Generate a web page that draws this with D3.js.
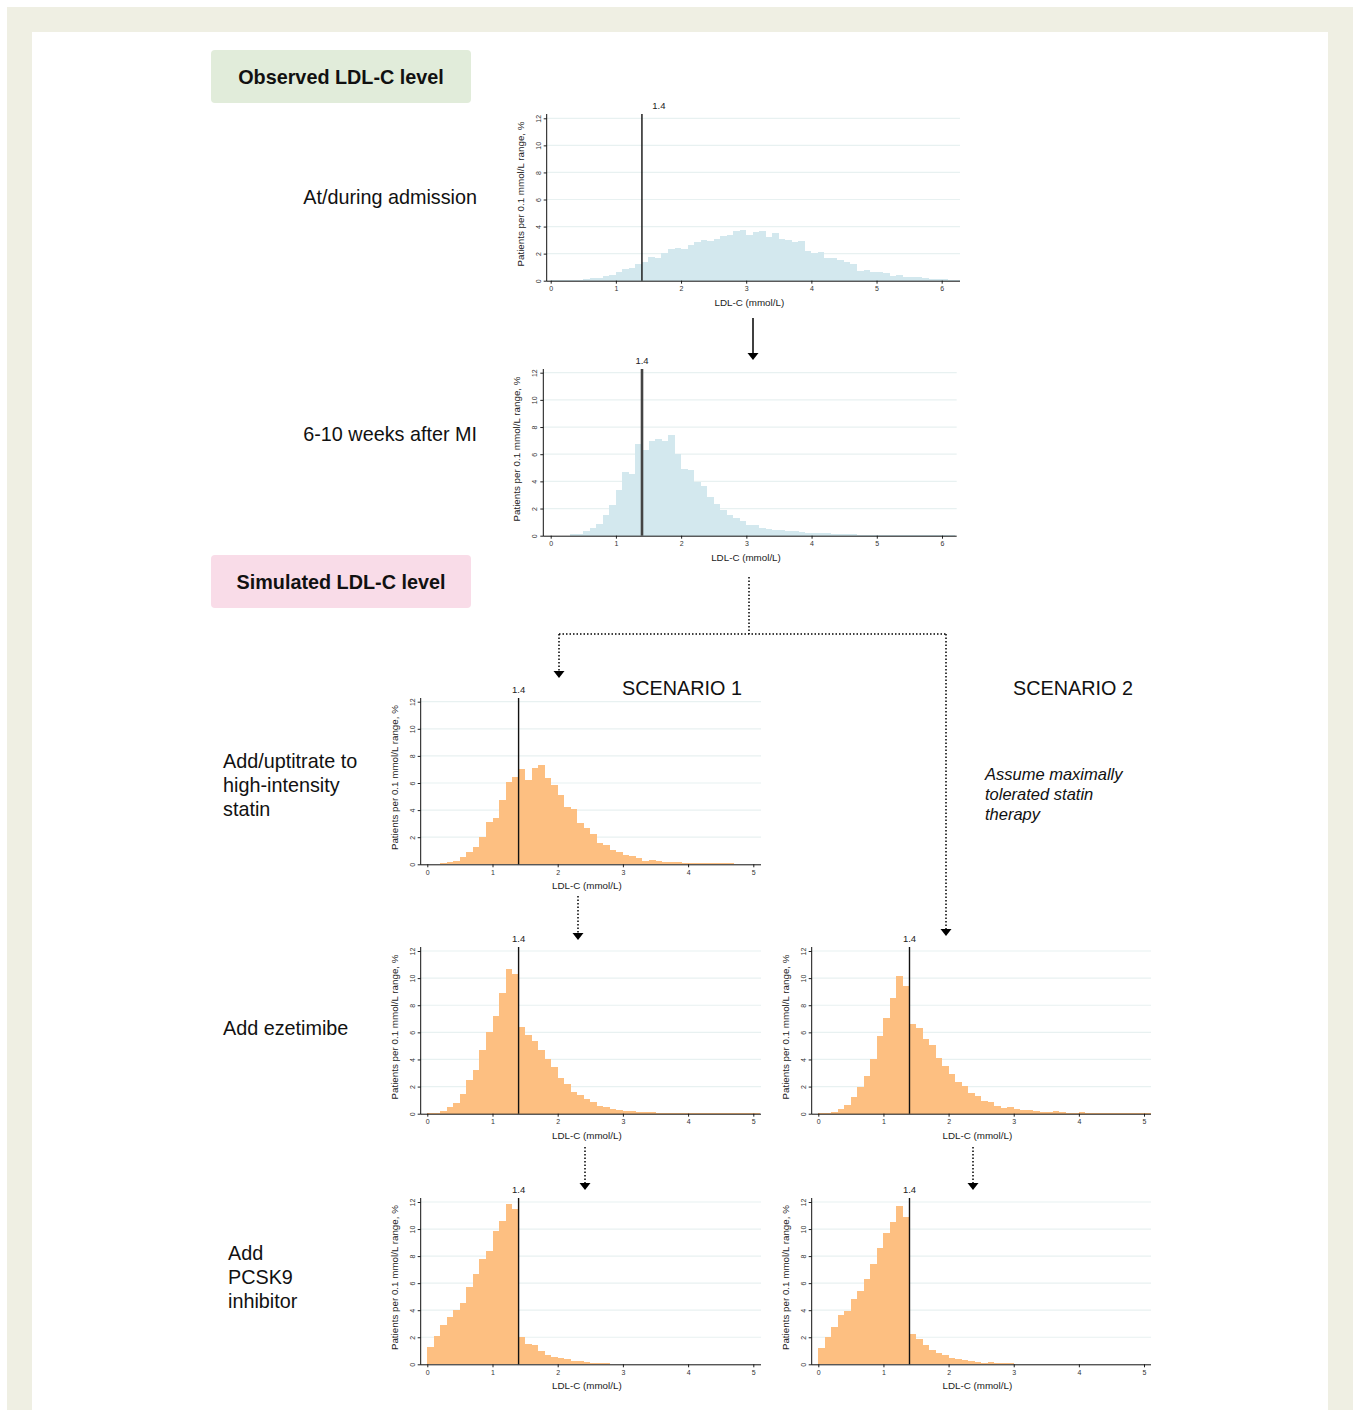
<!DOCTYPE html>
<html>
<head>
<meta charset="utf-8">
<script src="https://cdn.jsdelivr.net/npm/d3@7"></script>
<style>
  body{margin:0;background:#fff}
  svg{display:block;font-family:"Liberation Sans",Arial,Helvetica,sans-serif}
</style>
</head>
<body>
<div id="chart"></div>
<script>
// histogram values, % of patients per 0.1 mmol/L bin, bins start at 0
const binWidth = 0.1
const yTicks = [0,2,4,6,8,10,12]
const target = 1.4

const admission = [0.02,0.02,0.02,0.02,0.02,0.1,0.17,0.2,0.35,0.42,
  0.65,0.9,0.95,1.25,1.35,1.75,1.68,2.05,2.35,2.45,
  2.35,2.65,2.85,3.0,2.95,3.1,3.3,3.4,3.65,3.78,
  3.4,3.62,3.68,3.25,3.55,3.1,3.0,2.85,2.9,2.2,
  2.05,2.15,1.65,1.65,1.55,1.35,1.25,0.75,0.8,0.65,
  0.65,0.55,0.35,0.42,0.3,0.27,0.25,0.18,0.15,0.13,
  0.1,0.08,0.07]

const weeks6to10 = [0,0,0,0.1,0.1,0.33,0.57,0.87,1.53,2.27,
  3.38,4.72,4.57,6.72,6.3,6.94,7.09,6.94,7.38,6.05,
  4.94,4.86,3.98,3.68,2.86,2.35,1.9,1.53,1.31,1.09,
  0.81,0.81,0.57,0.49,0.42,0.42,0.35,0.35,0.27,0.22,
  0.2,0.2,0.2,0.15,0.12,0.12,0.12,0.07,0.03,0.03,
  0.03,0.03,0.03,0.03,0.03,0.03,0.03,0.03,0.03,0.03,
  0.02,0.02]

const s1Statin = [0.05,0.05,0.07,0.17,0.25,0.54,0.91,1.3,2.02,3.1,
  3.45,4.75,6.08,6.45,7.02,6.23,7.12,7.31,6.38,5.86,
  5.12,4.21,4.09,3.05,2.68,2.22,1.55,1.4,1.06,0.91,
  0.69,0.62,0.47,0.27,0.32,0.25,0.17,0.17,0.15,0.12,
  0.1,0.1,0.1,0.07,0.12,0.12,0.07,0.05,0.05,0.05,
  0.04]

const s1Ezetimibe = [0.05,0.05,0.22,0.49,0.76,1.43,2.48,3.22,4.72,6.02,
  7.2,8.93,10.67,10.33,6.39,5.8,5.36,4.7,4.0,3.44,
  2.63,2.19,1.6,1.4,1.08,0.86,0.59,0.49,0.37,0.3,
  0.2,0.22,0.12,0.12,0.12,0.05,0.05,0.05,0.05,0.05,
  0.03,0.03,0.03,0.03,0.03,0.03,0.03,0.03,0.03,0.03,
  0.03]

const s2Ezetimibe = [0.05,0.05,0.12,0.37,0.66,1.25,1.99,2.8,4.06,5.73,
  7.06,8.56,10.18,9.42,6.61,6.32,5.51,5.04,4.13,3.52,
  2.9,2.34,2.07,1.52,1.33,0.93,0.86,0.57,0.42,0.49,
  0.34,0.27,0.25,0.2,0.12,0.12,0.2,0.12,0.07,0.05,
  0.12,0.05,0.04,0.04,0.04,0.04,0.04,0.04,0.04,0.04,
  0.04]

const s1Pcsk9 = [1.31,2.09,2.91,3.5,4.04,4.53,5.74,6.68,7.79,8.38,
  9.86,10.6,11.85,11.48,2.05,1.53,1.43,1.01,0.71,0.54,
  0.44,0.37,0.25,0.25,0.17,0.12,0.12,0.07,0.05,0.05,
  0.03,0.03,0.03,0.03,0.03,0.03,0.03,0.03,0.03,0.03,
  0.03,0.03,0.03,0.03,0.03,0.03,0.03,0.03,0.03,0.03,
  0.03]

const s2Pcsk9 = [1.23,2.02,2.76,3.65,3.94,4.85,5.42,6.31,7.42,8.6,
  9.71,10.5,11.7,10.92,2.24,1.87,1.43,1.06,0.84,0.69,
  0.47,0.39,0.32,0.25,0.17,0.1,0.17,0.1,0.1,0.1,
  0.04,0.04,0.04,0.04,0.04,0.04,0.04,0.04,0.04,0.04,
  0.04,0.04,0.04,0.04,0.04,0.04,0.04,0.04,0.04,0.04,
  0.04]

const blue = "#d3e8ee"
const orange = "#fdbf81"

// panel placement
const panels = [
  {data: admission, color: blue, xMax: 6, axisX: 546.7, x0: 550.7, xEnd: 941.7, right: 960, y0: 280.7, y12: 118.3, top: 114, labelDx: 17, lineW: 1.4, lineC: "#111"},
  {data: weeks6to10, color: blue, xMax: 6, axisX: 543.3, x0: 550.7, xEnd: 942, right: 956.7, y0: 535.7, y12: 372.7, top: 369, labelDx: 0, lineW: 2.6, lineC: "#444"},
  {data: s1Statin, color: orange, xMax: 5, axisX: 420.7, x0: 427.3, xEnd: 753.3, right: 761, y0: 864.3, y12: 701.7, top: 698, labelDx: 0, lineW: 1.4, lineC: "#111"},
  {data: s1Ezetimibe, color: orange, xMax: 5, axisX: 420.7, x0: 427.3, xEnd: 753.3, right: 761, y0: 1113.7, y12: 951, top: 947, labelDx: 0, lineW: 1.4, lineC: "#111"},
  {data: s2Ezetimibe, color: orange, xMax: 5, axisX: 811.7, x0: 818.3, xEnd: 1144, right: 1151, y0: 1113.7, y12: 951, top: 947, labelDx: 0, lineW: 1.4, lineC: "#111"},
  {data: s1Pcsk9, color: orange, xMax: 5, axisX: 420.7, x0: 427.3, xEnd: 753.3, right: 761, y0: 1364.3, y12: 1202, top: 1198, labelDx: 0, lineW: 1.4, lineC: "#111"},
  {data: s2Pcsk9, color: orange, xMax: 5, axisX: 811.7, x0: 818.3, xEnd: 1144, right: 1151, y0: 1364.3, y12: 1202, top: 1198, labelDx: 0, lineW: 1.4, lineC: "#111"}
]

const svg = d3.select("#chart").append("svg").attr("width",1360).attr("height",1410)

drawFrame(svg)
drawBoxes(svg)
drawLabels(svg)
panels.forEach(p => drawPanel(svg,p))
drawArrows(svg)

function drawFrame(svg){
  svg.append("rect").attr("width",1360).attr("height",1410).attr("fill","#fff")
  svg.append("rect").attr("x",7).attr("y",7).attr("width",1346).attr("height",1410).attr("fill","#efefe3")
  svg.append("rect").attr("x",32).attr("y",32).attr("width",1296).attr("height",1400).attr("fill","#fff")
}

function drawBoxes(svg){
  const boxes = [
    {text:"Observed LDL-C level", y:50, fill:"#e1ecda"},
    {text:"Simulated LDL-C level", y:555, fill:"#f9dce8"}
  ]
  const g = svg.selectAll(".box").data(boxes).enter().append("g")
  g.append("rect").attr("x",211).attr("y",d=>d.y).attr("width",260).attr("height",53)
    .attr("rx",4).attr("fill",d=>d.fill)
  g.append("text").attr("x",341).attr("y",d=>d.y+34).attr("text-anchor","middle")
    .attr("font-weight","bold").attr("font-size","19.8px").attr("fill","#111").text(d=>d.text)
}

function drawLabels(svg){
  const rows = [
    {lines:["At/during admission"], x:477, y:204, anchor:"end"},
    {lines:["6-10 weeks after MI"], x:477, y:441, anchor:"end"},
    {lines:["Add/uptitrate to","high-intensity","statin"], x:223, y:768, anchor:"start"},
    {lines:["Add ezetimibe"], x:223, y:1035, anchor:"start"},
    {lines:["Add","PCSK9","inhibitor"], x:228, y:1260, anchor:"start"},
    {lines:["SCENARIO 1"], x:682, y:695, anchor:"middle"},
    {lines:["SCENARIO 2"], x:1073, y:695, anchor:"middle"}
  ]
  rows.forEach(r => {
    const t = svg.append("text").attr("x",r.x).attr("y",r.y).attr("text-anchor",r.anchor)
      .attr("font-size","19.8px").attr("fill","#111")
    r.lines.forEach((l,i) => t.append("tspan").attr("x",r.x).attr("dy",i===0?0:24).text(l))
  })

  const it = svg.append("text").attr("x",985).attr("y",780).attr("font-size","16.5px")
    .attr("font-style","italic").attr("fill","#111")
  ;["Assume maximally","tolerated statin","therapy"].forEach((l,i) =>
    it.append("tspan").attr("x",985).attr("dy",i===0?0:20).text(l))
}

function drawPanel(svg,p){
  const x = d3.scaleLinear().domain([0,p.xMax]).range([p.x0,p.xEnd])
  const y = d3.scaleLinear().domain([0,12]).range([p.y0,p.y12])
  const g = svg.append("g")

  g.selectAll(".grid").data(yTicks.slice(1)).enter().append("line")
    .attr("x1",p.axisX).attr("x2",p.right).attr("y1",d=>y(d)).attr("y2",d=>y(d))
    .attr("stroke","#e8f1f1").attr("stroke-width",1.2)

  g.selectAll(".bar").data(p.data).enter().append("rect")
    .attr("x",(d,i)=>x(i*binWidth))
    .attr("width",(d,i)=>Math.max(0,Math.min(x((i+1)*binWidth),p.right)-x(i*binWidth)))
    .attr("y",d=>y(d)).attr("height",d=>y(0)-y(d))
    .attr("fill",p.color).attr("shape-rendering","crispEdges")

  // x axis
  const xa = g.append("g").attr("transform",`translate(0,${p.y0})`)
    .call(d3.axisBottom(x).tickValues(d3.range(0,p.xMax+1)).tickFormat(d3.format("d"))
      .tickSize(3).tickSizeOuter(0).tickPadding(2.5))
  xa.select(".domain").remove()
  xa.selectAll("text").attr("font-size","7px").attr("fill","#333").attr("font-family","Liberation Sans, Arial")
  xa.selectAll("line").attr("stroke","#222")
  g.append("line").attr("x1",p.axisX).attr("x2",p.right).attr("y1",p.y0+0.5).attr("y2",p.y0+0.5)
    .attr("stroke","#111").attr("stroke-width",1)

  // y axis
  const ya = g.append("g").attr("transform",`translate(${p.axisX},0)`)
    .call(d3.axisLeft(y).tickValues(yTicks).tickFormat(d3.format("d")).tickSize(3).tickSizeOuter(0))
  ya.select(".domain").remove()
  ya.selectAll("line").attr("stroke","#222")
  ya.selectAll("text").attr("x",0).attr("dy",0).attr("text-anchor","middle")
    .attr("transform","translate(-6,0) rotate(-90)")
    .attr("font-size","7px").attr("fill","#333").attr("font-family","Liberation Sans, Arial")
  g.append("line").attr("x1",p.axisX).attr("x2",p.axisX).attr("y1",p.top).attr("y2",p.y0+0.5)
    .attr("stroke","#111").attr("stroke-width",1)

  // titles
  g.append("text").attr("x",(p.axisX+p.right)/2 - 4).attr("y",p.y0+25).attr("text-anchor","middle")
    .attr("font-size","9.8px").attr("fill","#222").text("LDL-C (mmol/L)")
  g.append("text").attr("transform",`translate(${p.axisX-23},${p.y0-86.7}) rotate(-90)`)
    .attr("text-anchor","middle").attr("font-size","9.8px").attr("fill","#222")
    .text("Patients per 0.1 mmol/L range, %")

  // target line
  g.append("line").attr("x1",x(target)).attr("x2",x(target)).attr("y1",p.top).attr("y2",p.y0)
    .attr("stroke",p.lineC).attr("stroke-width",p.lineW)
  g.append("text").attr("x",x(target)+p.labelDx).attr("y",p.top-5.5).attr("text-anchor","middle")
    .attr("font-size","9.5px").attr("fill","#222").text(target)
}

function arrowHead(svg,cx,cy){
  svg.append("path").attr("d",`M${cx-5.5},${cy} L${cx+5.5},${cy} L${cx},${cy+7} Z`).attr("fill","#000")
}

function drawArrows(svg){
  svg.append("line").attr("x1",753).attr("x2",753).attr("y1",318).attr("y2",356)
    .attr("stroke","#000").attr("stroke-width",1.5)
  arrowHead(svg,753,353)

  const dotted = [
    "M749,577 V634", "M559,634 H946", "M559,634 V671", "M946,634 V929",
    "M578,896 V933", "M585,1147 V1183", "M973,1147 V1183"
  ]
  svg.selectAll(".dot").data(dotted).enter().append("path").attr("d",d=>d)
    .attr("stroke","#000").attr("stroke-width",1.5).attr("stroke-dasharray","1.5 2").attr("fill","none")

  arrowHead(svg,559,671)
  arrowHead(svg,946,929)
  arrowHead(svg,578,933)
  arrowHead(svg,585,1183)
  arrowHead(svg,973,1183)
}
</script>
</body>
</html>
